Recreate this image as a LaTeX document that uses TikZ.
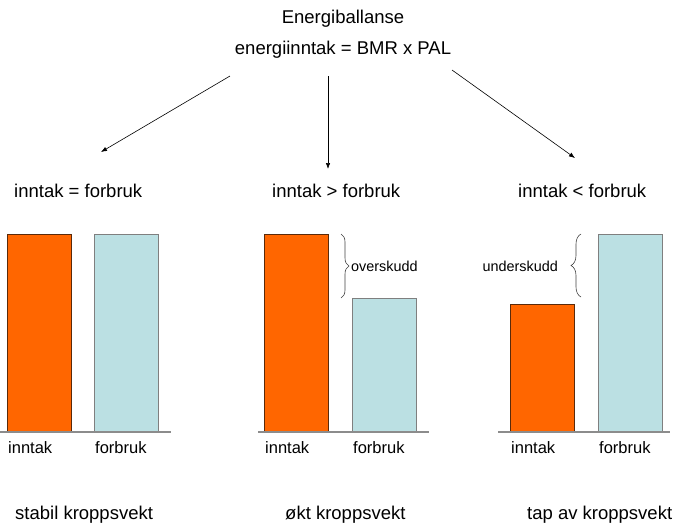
\documentclass[tikz,border=0pt]{standalone}
\usepackage{fontspec}
\setmainfont{Liberation Sans}
\usetikzlibrary{arrows.meta,decorations.pathreplacing}
\definecolor{barorange}{HTML}{FF6600}
\definecolor{barorangeedge}{HTML}{5A2A0A}
\definecolor{barcyan}{HTML}{BBE0E3}
\definecolor{barcyanedge}{HTML}{7F7F7F}
\definecolor{baseg}{HTML}{8C8C8C}
\tikzset{
  lbl/.style={inner sep=0pt, font=\fontsize{18.5}{20}\selectfont},
  barlbl/.style={inner sep=0pt, font=\fontsize{16.5}{18}\selectfont},
  brlbl/.style={inner sep=0pt, font=\fontsize{14.4}{16}\selectfont},
  inbar/.style={fill=barorange, draw=barorangeedge, line width=0.8pt},
  outbar/.style={fill=barcyan, draw=barcyanedge, line width=0.8pt},
  baseline/.style={draw=baseg, line width=1.5pt},
  arr/.style={-{Latex[length=6pt,width=4.5pt]}, line width=0.6pt},
  brc/.style={decorate, line width=0.6pt, draw=black!75}
}
\begin{document}
\begin{tikzpicture}[x=1pt,y=-1pt]
\useasboundingbox (0,0) rectangle (686,528);
% title
\node[lbl, anchor=base] (title) at (343,23) {Energiballanse};
\node[lbl, anchor=base] (eq) at (343,54) {energiinntak = BMR x PAL};
% arrows
\coordinate (s1) at (230,76); \coordinate (e1) at (101,152);
\coordinate (s2) at (328,76); \coordinate (e2) at (328,169);
\coordinate (s3) at (452,70); \coordinate (e3) at (575,158);
\draw[arr] (s1) -- (e1);
\draw[arr] (s2) -- (e2);
\draw[arr] (s3) -- (e3);
% headings
\node[lbl, anchor=base west] (h1) at (14,197) {inntak = forbruk};
\node[lbl, anchor=base west] (h2) at (272,197) {inntak > forbruk};
\node[lbl, anchor=base west] (h3) at (518,197) {inntak < forbruk};
% bars group 1
\draw[inbar] (7,234) rectangle (71,432);
\draw[outbar] (94,234) rectangle (158,432);
\draw[baseline] (0,432) -- (171,432);
% bars group 2
\draw[inbar] (264,234) rectangle (328,432);
\draw[outbar] (352,298) rectangle (416,432);
\draw[baseline] (258,432) -- (429,432);
% bars group 3
\draw[inbar] (510,304) rectangle (574,432);
\draw[outbar] (598,234) rectangle (662,432);
\draw[baseline] (498,432) -- (670,432);
% braces
\draw[brc, decoration={brace, amplitude=8pt}] (341,234) -- (341,298);
\node[brlbl, anchor=west] (ov) at (351,266) {overskudd};
\draw[brc, decoration={brace, amplitude=10pt}] (581,297) -- (581,234);
\node[brlbl, anchor=east] (un) at (558,266) {underskudd};
% bar labels
\node[barlbl, anchor=base west] (i1) at (8,453) {inntak};
\node[barlbl, anchor=base west] (f1) at (95,453) {forbruk};
\node[barlbl, anchor=base west] (i2) at (265,453) {inntak};
\node[barlbl, anchor=base west] (f2) at (353,453) {forbruk};
\node[barlbl, anchor=base west] (i3) at (511,453) {inntak};
\node[barlbl, anchor=base west] (f3) at (599,453) {forbruk};
% conclusions
\node[lbl, anchor=base west] (c1) at (15,519) {stabil kroppsvekt};
\node[lbl, anchor=base west] (c2) at (285,519) {økt kroppsvekt};
\node[lbl, anchor=base west] (c3) at (527,519) {tap av kroppsvekt};
\end{tikzpicture}
\end{document}
